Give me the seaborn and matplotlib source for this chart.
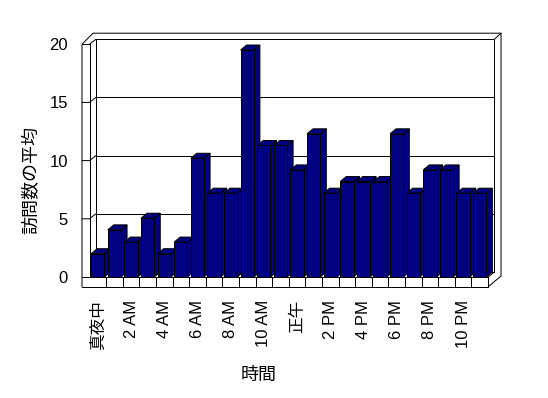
import matplotlib
matplotlib.use('Agg')
import numpy as np
import pandas as pd
import seaborn as sns
import matplotlib.pyplot as plt
from matplotlib import transforms
from matplotlib.patches import Polygon
from matplotlib.lines import Line2D

# ---- data ----
hours = ['真夜中', '1 AM', '2 AM', '3 AM', '4 AM', '5 AM', '6 AM', '7 AM',
         '8 AM', '9 AM', '10 AM', '11 AM', '正午', '1 PM', '2 PM', '3 PM',
         '4 PM', '5 PM', '6 PM', '7 PM', '8 PM', '9 PM', '10 PM', '11 PM']
visits = [2.0, 4.05, 3.0, 5.05, 2.0, 3.0, 10.2, 7.2, 7.2, 19.5, 11.3, 11.3,
          9.2, 12.3, 7.2, 8.2, 8.2, 8.2, 12.3, 7.2, 9.2, 9.2, 7.2, 7.2]
yticks = [0, 5, 10, 15, 20]
x_title = '時間'
y_title = '訪問数の平均'

sns.set_theme(style='white')
plt.rcParams['font.family'] = ['Liberation Sans', 'Noto Sans CJK JP']

W, H = 548, 398
fig = plt.figure(figsize=(W / 100, H / 100), dpi=100)
fig.patch.set_facecolor('white')
L0, R0, T0, B0 = 89.5, 488.0, 44.2, 277.0
ax = fig.add_axes([L0 / W, 1 - B0 / H, (R0 - L0) / W, (B0 - T0) / H])

df = pd.DataFrame({'hour': hours, 'visits': visits})
sns.barplot(data=df, x='hour', y='visits', order=hours, color='#000080',
            saturation=1, width=0.8, edgecolor='black', linewidth=0.72,
            errorbar=None, ax=ax)
ax.set_xlim(-0.5, len(hours) - 0.5)
ax.set_ylim(yticks[0], yticks[-1])
ax.set_facecolor('none')
for s in ax.spines.values():
    s.set_visible(False)
ax.grid(False)
ax.set_xlabel('')
ax.set_ylabel('')
ax.set_yticks(yticks)
ax.set_yticklabels([str(v) for v in yticks])
ax.tick_params(axis='y', length=0, pad=15.5, labelsize=12, colors='black')
ax.set_xticks(range(0, len(hours), 2))
ax.set_xticklabels(hours[::2], rotation=90)
ax.tick_params(axis='x', length=0, pad=16.5, labelsize=12, colors='black')

# pixel (top-origin) transform
pix = transforms.Affine2D().scale(1, -1).translate(0, H)


def to_pix(x, y):
    d = ax.transData.transform((x, y))
    return d[0], H - d[1]


L, T = to_pix(-0.5, yticks[-1])
R, B = to_pix(len(hours) - 0.5, yticks[0])

LW = 0.72


def line(xs, ys, z):
    ax.add_line(Line2D(xs, ys, transform=pix, color='black', lw=LW,
                       clip_on=False, zorder=z))


# walls geometry
dxw, dyw = 6.5, 5.0
outer_l = L - 7.5
floor_b = B + 10
outer_top = T - 11
outer_r = R + 2 * dxw

# back wall inner rectangle + gridlines
bl, br = L + dxw, R + dxw
for v in yticks[1:]:
    _, yv = to_pix(0, v)
    line([bl, br], [yv - dyw, yv - dyw], 0.5)
line([bl, bl], [T - dyw, B - dyw], 0.5)
line([br, br], [T - dyw, B - dyw], 0.5)
line([bl, br], [B - dyw, B - dyw], 0.5)
line([R, br], [B, B - dyw], 0.5)

# outer frame
line([outer_l, outer_l, outer_l + 11, outer_r, outer_r, R],
     [floor_b, T, outer_top, outer_top, B - 1, floor_b], 6)
line([br, outer_r], [T - dyw, outer_top], 6)
# left wall front face inner edge + top
line([L, L], [T, B], 6)
line([L, bl], [T, T - dyw], 6)
line([outer_l, L], [T, T], 6)
# left wall ticks
for v in yticks[1:-1]:
    _, yv = to_pix(0, v)
    line([outer_l, L, bl], [yv, yv, yv - dyw], 6)
# floor front face
line([outer_l, R], [B, B], 6)
line([outer_l, R], [floor_b, floor_b], 6)
line([R, R], [B, floor_b], 6)
for k in range(1, len(hours)):
    xk, _ = to_pix(k - 0.5, 0)
    line([xk, xk], [B, floor_b], 6)

# 3D bar faces
dxb, dyb = 6.0, 5.0
for i, p in enumerate(ax.patches):
    x0d, wd, hd = p.get_x(), p.get_width(), p.get_height()
    x0, ytop = to_pix(x0d, hd)
    x1, ybot = to_pix(x0d + wd, 0)
    z = 2 + 0.01 * i
    top = Polygon([(x0, ytop), (x1, ytop), (x1 + dxb, ytop - dyb),
                   (x0 + dxb, ytop - dyb)], closed=True, transform=pix,
                  facecolor='#000080', edgecolor='black', lw=LW,
                  clip_on=False, zorder=z)
    side = Polygon([(x1, ybot), (x1, ytop), (x1 + dxb, ytop - dyb),
                    (x1 + dxb, ybot - dyb)], closed=True, transform=pix,
                   facecolor='#000080', edgecolor='black', lw=LW,
                   clip_on=False, zorder=z)
    ax.add_patch(side)
    ax.add_patch(top)
    p.set_zorder(z + 0.005)

fig.text(259 / W, 1 - 375 / H, x_title, ha='center', va='center',
         fontsize=13, color='black')
fig.text(32 / W, 1 - 180 / H, y_title, ha='center', va='center',
         rotation=90, fontsize=13, color='black')

fig.savefig('out.png', dpi=100, facecolor='white')
